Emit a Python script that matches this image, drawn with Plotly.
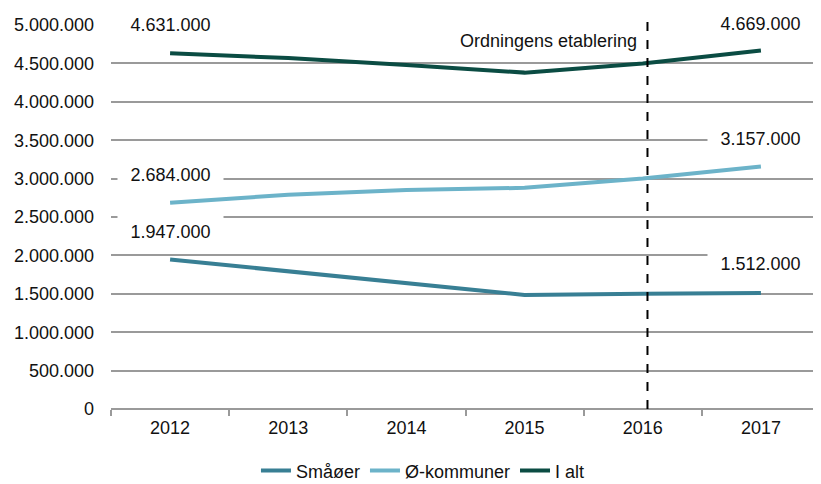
import plotly.graph_objects as go

years = ["2012", "2013", "2014", "2015", "2016", "2017"]
smaaoer = [1947000, 1790000, 1640000, 1485000, 1500000, 1512000]
oe_kommuner = [2684000, 2790000, 2850000, 2880000, 3000000, 3157000]
i_alt = [4631000, 4570000, 4480000, 4380000, 4500000, 4669000]
y_ticks = [0, 500000, 1000000, 1500000, 2000000, 2500000, 3000000, 3500000, 4000000, 4500000, 5000000]
marker_label = "Ordningens etablering"

FONT = "Liberation Sans, Arial, sans-serif"
GRID = "#9a9a9a"
TEXT = "#111111"


def fmt(v):
    return f"{v:,}".replace(",", ".")


fig = go.Figure()
fig.add_trace(go.Scatter(x=years, y=smaaoer, mode="lines", name="Småøer",
                         line=dict(color="#387f94", width=4)))
fig.add_trace(go.Scatter(x=years, y=oe_kommuner, mode="lines", name="Ø-kommuner",
                         line=dict(color="#6cb3c9", width=4)))
fig.add_trace(go.Scatter(x=years, y=i_alt, mode="lines", name="I alt",
                         line=dict(color="#0b4c43", width=4)))

# value labels (first and last of each series), placed in white boxes
label_specs = [
    (0, i_alt[0], 5000000, 0),
    (5, i_alt[-1], 5000000, 1),
    (0, oe_kommuner[0], 3050000, 0),
    (5, oe_kommuner[-1], 3520000, 0),
    (0, smaaoer[0], 2310000, 0),
    (5, smaaoer[-1], 1890000, 0),
]
for xi, val, ypos, ysh in label_specs:
    fig.add_annotation(x=xi, y=ypos, xref="x", yref="y", text=fmt(val),
                       showarrow=False, bgcolor="white", borderpad=8, width=89,
                       yshift=ysh, font=dict(family=FONT, size=18, color=TEXT))

fig.add_shape(type="line", xref="x", yref="paper", x0=4.04, x1=4.04, y0=0, y1=1.016,
              line=dict(color="black", width=2, dash="dash"))
fig.add_annotation(x=4.04, y=4790000, xref="x", yref="y", text=marker_label,
                   showarrow=False, xanchor="right", xshift=-8,
                   font=dict(family=FONT, size=18, color=TEXT))

# the page body adds an 8px offset, so the figure is 8px smaller on each axis
fig.update_layout(
    width=813, height=476,
    margin=dict(l=103, r=1, t=17, b=74.5, autoexpand=False),
    paper_bgcolor="white", plot_bgcolor="white",
    font=dict(family=FONT, size=18, color=TEXT),
    showlegend=True,
    legend=dict(orientation="h", x=0.44, xanchor="center", y=-0.113, yanchor="top",
                font=dict(family=FONT, size=18, color=TEXT), tracegroupgap=0),
)
fig.update_xaxes(type="category", range=[-0.5, 5.5], showgrid=False, automargin=False,
                 tickson="boundaries", ticks="outside", ticklen=6, tickcolor=GRID,
                 tickwidth=1.5, showline=False, zeroline=False,
                 tickfont=dict(family=FONT, size=18, color=TEXT), ticklabelstandoff=6)
fig.update_yaxes(range=[0, 5000000], tickvals=y_ticks, automargin=False,
                 ticktext=[fmt(v) for v in y_ticks], showgrid=True,
                 gridcolor=GRID, gridwidth=1.5, zeroline=True, zerolinecolor=GRID,
                 zerolinewidth=1.5, showline=False, ticks="",
                 tickfont=dict(family=FONT, size=18, color=TEXT), ticklabelstandoff=16)

fig.write_html("out.html")
